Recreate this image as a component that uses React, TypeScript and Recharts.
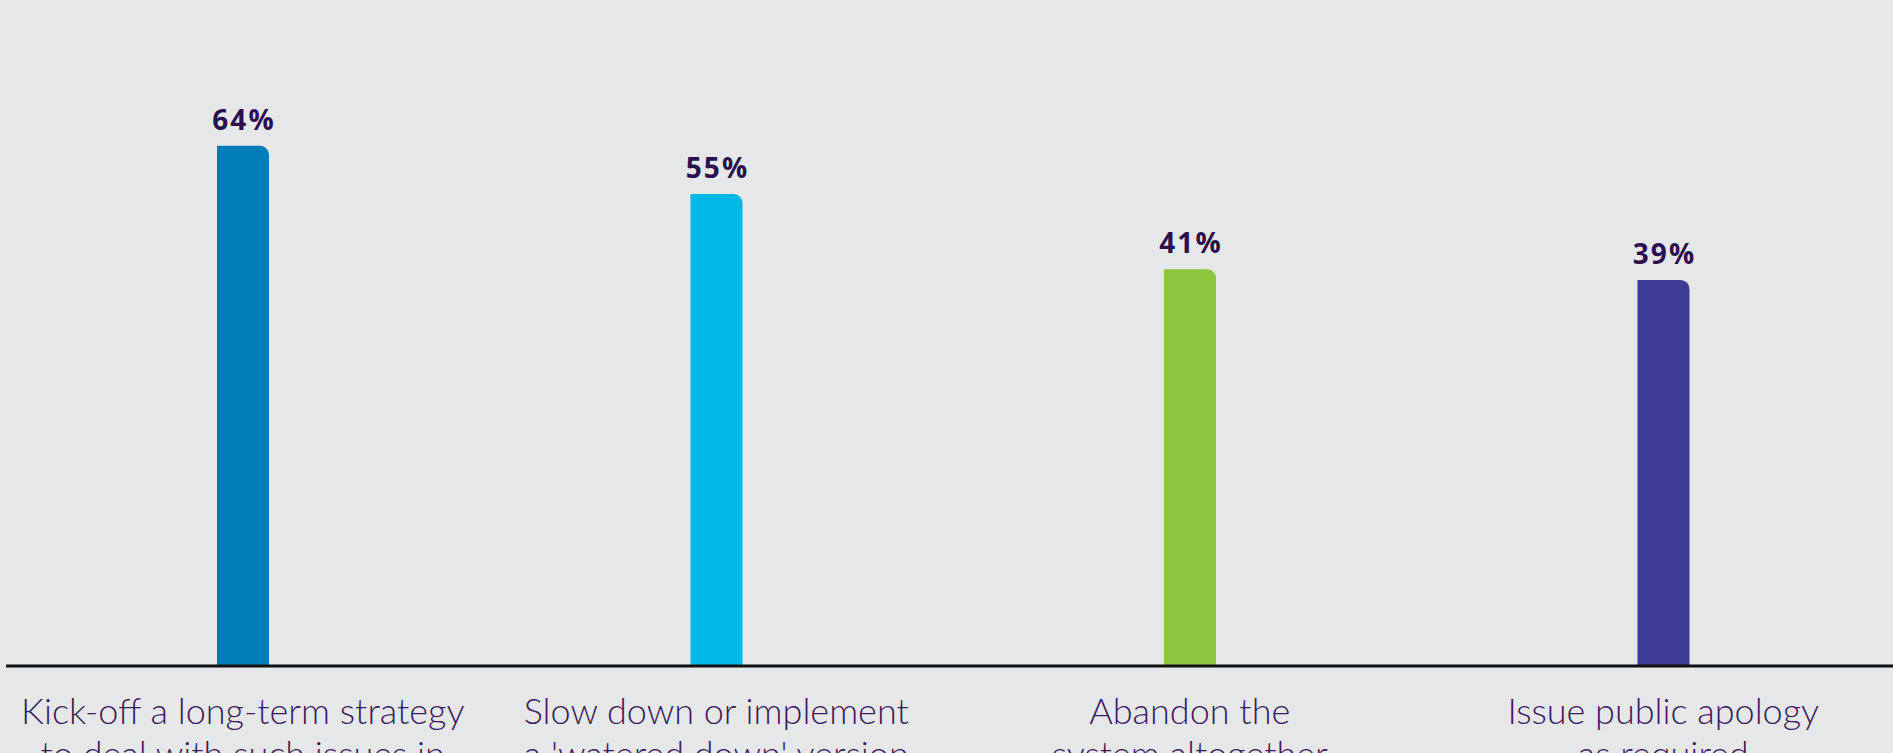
import React from 'react'
import { BarChart, Bar, XAxis, YAxis, Cell, LabelList } from 'recharts'

// values (percent of respondents)
const CATEGORIES = ['Kick-off', 'Slow down', 'Abandon', 'Issue apology']
const VALUES = [64, 55, 41, 39]
const CATEGORY_LINES = [
  ['Kick-off a long-term strategy', 'to deal with such issues in'],
  ['Slow down or implement', "a 'watered down' version"],
  ['Abandon the', 'system altogether'],
  ['Issue public apology', 'as required'],
]
const COLORS = ['#007db8', '#00b8e6', '#8cc63f', '#3f3a93']

// the value axis of the original does not start at zero
const AXIS_MIN = -33
const AXIS_MAX = 80

const data = CATEGORIES.map((category, i) => ({ category, value: VALUES[i] }))

const labelFont = '"Lato", "Open Sans", "DejaVu Sans", sans-serif'

function CategoryTick(props: any) {
  const { x, y, payload } = props
  const lines = CATEGORY_LINES[payload.index] || []
  return (
    <g>
      {lines.map((line, i) => (
        <text
          key={i}
          x={x}
          y={y + 58 + i * 43}
          textAnchor="middle"
          fill="#3a1a5e"
          fontFamily={labelFont}
          fontWeight={300}
          fontSize={36}
        >
          {line}
        </text>
      ))}
    </g>
  )
}

function ValueLabel(props: any) {
  const { x, y, width, index } = props
  return (
    <text
      x={x + width / 2 + 1}
      y={y - 16}
      textAnchor="middle"
      fill="#2c0f4e"
      fontFamily='"Open Sans", "DejaVu Sans", sans-serif'
      fontWeight={700}
      fontSize={28}
      letterSpacing={2}
    >
      {VALUES[index]}%
    </text>
  )
}

export default function App() {
  return (
    <div
      style={{
        position: 'absolute',
        left: 0,
        top: 0,
        width: 1893,
        height: 753,
        overflow: 'hidden',
        background: '#e6e7e9',
      }}
    >
      <BarChart
        width={1900}
        height={753}
        data={data}
        margin={{ top: 60, right: 0, left: 6, bottom: 0 }}
        barSize={52}
      >
        <XAxis
          dataKey="category"
          axisLine={{ stroke: '#111111', strokeWidth: 3 }}
          tickLine={false}
          tickSize={0}
          tickMargin={0}
          interval={0}
          height={87}
          tick={<CategoryTick />}
        />
        <YAxis hide domain={[AXIS_MIN, AXIS_MAX]} allowDataOverflow />
        <Bar
          dataKey={(d: any) => [AXIS_MIN, d.value]}
          radius={[0, 9, 0, 0]}
          isAnimationActive={false}
        >
          {data.map((entry, i) => (
            <Cell key={entry.category} fill={COLORS[i]} />
          ))}
          <LabelList content={<ValueLabel />} />
        </Bar>
      </BarChart>
    </div>
  )
}
